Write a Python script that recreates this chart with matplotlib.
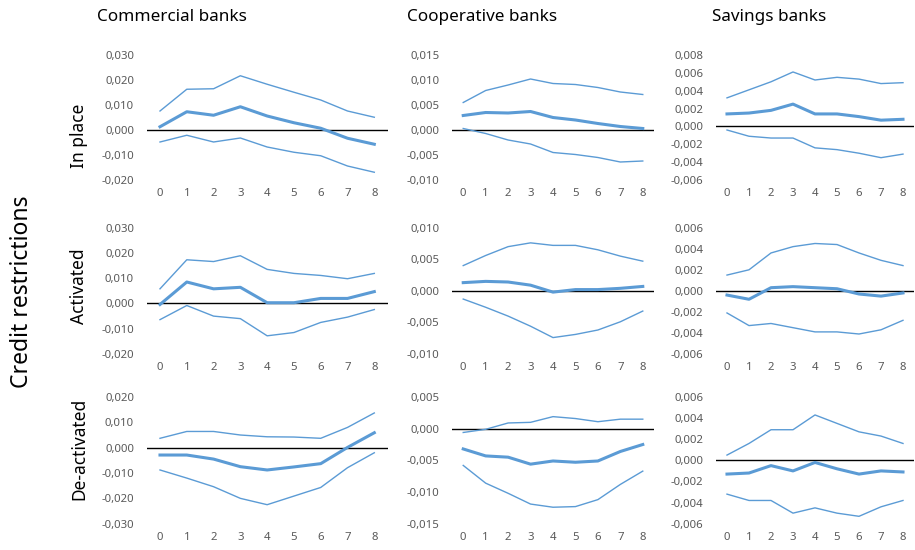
import numpy as np
import matplotlib
matplotlib.use("Agg")
from matplotlib import pyplot as plt
from matplotlib.ticker import FuncFormatter, MultipleLocator

plt.rcParams['font.family'] = ['Noto Sans', 'DejaVu Sans']

W, H = 915, 550
BLUE = '#5B9BD5'
GREY = '#595959'

horizon = list(range(9))
bank_types = ['Commercial banks', 'Cooperative banks', 'Savings banks']
regimes = ['In place', 'Activated', 'De-activated']

# rows: In place, Activated, De-activated / cols: commercial, cooperative, savings
# each entry: (upper band, estimate, lower band)
com_in_up = [0.0076, 0.0163, 0.0165, 0.0217, 0.0183, 0.0151, 0.0120, 0.0076, 0.0051]
com_in_mid = [0.0013, 0.0073, 0.0059, 0.0093, 0.0056, 0.0029, 0.0007, -0.0033, -0.0057]
com_in_lo = [-0.0048, -0.0021, -0.0048, -0.0032, -0.0068, -0.0089, -0.0103, -0.0144, -0.0169]

coop_in_up = [0.0055, 0.0079, 0.0090, 0.0102, 0.0093, 0.0091, 0.0085, 0.0076, 0.0071]
coop_in_mid = [0.0029, 0.0035, 0.0034, 0.0037, 0.0025, 0.0020, 0.0013, 0.0007, 0.0003]
coop_in_lo = [0.0003, -0.0007, -0.0020, -0.0028, -0.0045, -0.0049, -0.0055, -0.0064, -0.0062]

sav_in_up = [0.0032, 0.0041, 0.0050, 0.0061, 0.0052, 0.0055, 0.0053, 0.0048, 0.0049]
sav_in_mid = [0.0014, 0.0015, 0.0018, 0.0025, 0.0014, 0.0014, 0.0011, 0.0007, 0.0008]
sav_in_lo = [-0.0004, -0.0011, -0.0013, -0.0013, -0.0024, -0.0026, -0.0030, -0.0035, -0.0031]

com_act_up = [0.0058, 0.0173, 0.0166, 0.0189, 0.0135, 0.0119, 0.0111, 0.0098, 0.0119]
com_act_mid = [-0.0004, 0.0085, 0.0058, 0.0064, 0.0003, 0.0003, 0.0020, 0.0020, 0.0047]
com_act_lo = [-0.0064, -0.0008, -0.0050, -0.0060, -0.0128, -0.0115, -0.0075, -0.0054, -0.0024]

coop_act_up = [0.0040, 0.0056, 0.0070, 0.0076, 0.0072, 0.0072, 0.0065, 0.0055, 0.0047]
coop_act_mid = [0.0013, 0.0015, 0.0014, 0.0009, -0.0002, 0.0002, 0.0002, 0.0004, 0.0007]
coop_act_lo = [-0.0013, -0.0026, -0.0040, -0.0056, -0.0074, -0.0069, -0.0062, -0.0049, -0.0032]

sav_act_up = [0.0015, 0.0020, 0.0036, 0.0042, 0.0045, 0.0044, 0.0036, 0.0029, 0.0024]
sav_act_mid = [-0.0004, -0.0008, 0.0003, 0.0004, 0.0003, 0.0002, -0.0003, -0.0005, -0.0002]
sav_act_lo = [-0.0021, -0.0033, -0.0031, -0.0035, -0.0039, -0.0039, -0.0041, -0.0037, -0.0028]

com_de_up = [0.0037, 0.0064, 0.0064, 0.0050, 0.0043, 0.0042, 0.0037, 0.0080, 0.0137]
com_de_mid = [-0.0029, -0.0029, -0.0045, -0.0075, -0.0088, -0.0076, -0.0063, 0.0001, 0.0059]
com_de_lo = [-0.0088, -0.0120, -0.0154, -0.0200, -0.0225, -0.0191, -0.0157, -0.0079, -0.0020]

coop_de_up = [-0.0006, -0.0001, 0.0009, 0.0010, 0.0019, 0.0016, 0.0011, 0.0015, 0.0015]
coop_de_mid = [-0.0032, -0.0043, -0.0045, -0.0056, -0.0051, -0.0053, -0.0051, -0.0036, -0.0025]
coop_de_lo = [-0.0058, -0.0086, -0.0102, -0.0119, -0.0124, -0.0123, -0.0112, -0.0088, -0.0067]

sav_de_up = [0.0005, 0.0016, 0.0029, 0.0029, 0.0043, 0.0035, 0.0027, 0.0023, 0.0016]
sav_de_mid = [-0.0013, -0.0012, -0.0005, -0.0010, -0.0002, -0.0008, -0.0013, -0.0010, -0.0011]
sav_de_lo = [-0.0032, -0.0038, -0.0038, -0.0050, -0.0045, -0.0050, -0.0053, -0.0044, -0.0038]

panels = [
    [(com_in_up, com_in_mid, com_in_lo), (coop_in_up, coop_in_mid, coop_in_lo), (sav_in_up, sav_in_mid, sav_in_lo)],
    [(com_act_up, com_act_mid, com_act_lo), (coop_act_up, coop_act_mid, coop_act_lo), (sav_act_up, sav_act_mid, sav_act_lo)],
    [(com_de_up, com_de_mid, com_de_lo), (coop_de_up, coop_de_mid, coop_de_lo), (sav_de_up, sav_de_mid, sav_de_lo)],
]

# y ranges (min, max, step) per panel
y_ranges = [
    [(-0.02, 0.03, 0.01), (-0.01, 0.015, 0.005), (-0.006, 0.008, 0.002)],
    [(-0.02, 0.03, 0.01), (-0.01, 0.01, 0.005), (-0.006, 0.006, 0.002)],
    [(-0.03, 0.02, 0.01), (-0.015, 0.005, 0.005), (-0.006, 0.006, 0.002)],
]

# plot area in pixels
col_x = [(146.6, 387.7), (452, 654), (716, 914)]
row_y = [(55, 180), (227.7, 354), (397, 523.7)]


def fmt(v, pos):
    if abs(v) < 1e-12:
        v = 0.0
    return f'{v:.3f}'.replace('.', ',')


fig = plt.figure(figsize=(W / 100, H / 100), dpi=100)

for r in range(3):
    for c in range(3):
        x0, x1 = col_x[c]
        y0, y1 = row_y[r]
        ax = fig.add_axes([x0 / W, 1 - y1 / H, (x1 - x0) / W, (y1 - y0) / H])
        up, mid, lo = panels[r][c]
        ax.plot(horizon, up, color=BLUE, lw=1.0)
        ax.plot(horizon, lo, color=BLUE, lw=1.0)
        ax.plot(horizon, mid, color=BLUE, lw=2.2)
        ax.axhline(0, color='black', lw=1.0, zorder=1)
        lo_y, hi_y, step = y_ranges[r][c]
        ax.set_ylim(lo_y, hi_y)
        ax.set_xlim(-0.5, 8.5)
        ax.yaxis.set_major_locator(MultipleLocator(step))
        ax.yaxis.set_major_formatter(FuncFormatter(fmt))
        ax.set_xticks(horizon)
        for s in ax.spines.values():
            s.set_visible(False)
        ax.tick_params(length=0, labelsize=8.2, labelcolor=GREY)
        ax.tick_params(axis='y', pad=9)
        ax.tick_params(axis='x', pad=6)
        ax.patch.set_alpha(0)

title_x = [97, 407, 712]
for c in range(3):
    fig.text(title_x[c] / W, 1 - 17 / H, bank_types[c], fontsize=12.3,
             ha='left', va='center', color='black')

label_y = [136, 286, 449]
for r in range(3):
    fig.text(79 / W, 1 - label_y[r] / H, regimes[r], fontsize=12.5,
             rotation=90, ha='center', va='center', color='black')

fig.text(22 / W, 1 - 292 / H, 'Credit restrictions', fontsize=16.5,
         rotation=90, ha='center', va='center', color='black')

fig.savefig('out.png', dpi=100)
